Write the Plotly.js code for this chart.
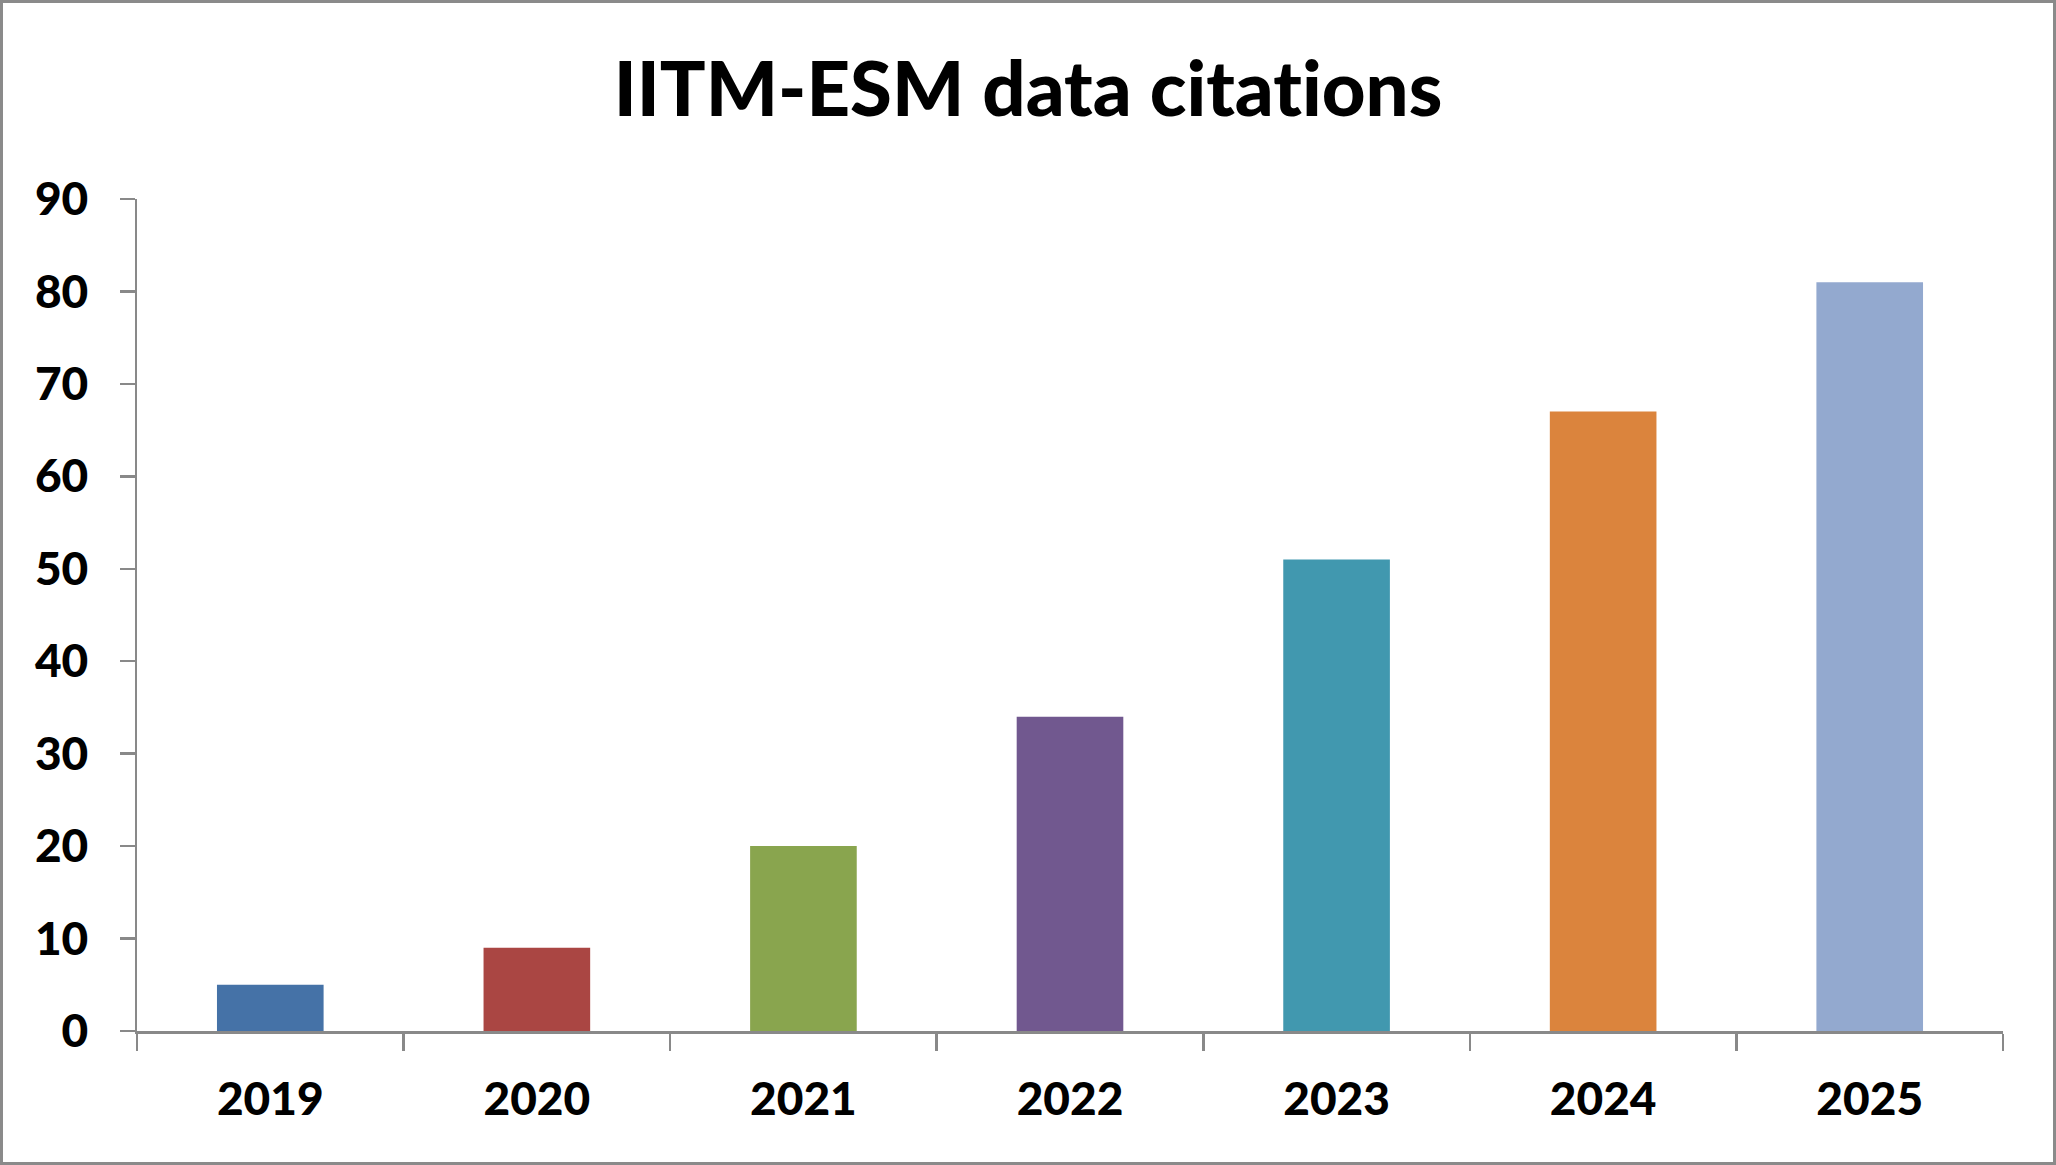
<!DOCTYPE html>
<html>
<head>
<meta charset="utf-8">
<script src="https://cdn.plot.ly/plotly-3.0.1.min.js"></script>
<style>
  html, body { margin: 0; padding: 0; background: #fff; }
  #chart { width: 2056px; height: 1165px; box-sizing: border-box; border: 3px solid #8a8a8a; }
  #chart text { font-variant-ligatures: none; font-feature-settings: "liga" 0; }
</style>
</head>
<body>
<div id="chart"></div>
<script>
const years = ["2019", "2020", "2021", "2022", "2023", "2024", "2025"];
const citations = [5, 9, 20, 34, 51, 67, 81];
const barColors = ["#4572A7", "#AA4643", "#89A54E", "#71588F", "#4198AF", "#DB843D", "#93A9CF"];
const yTicks = [0, 10, 20, 30, 40, 50, 60, 70, 80, 90];

const axisColor = "#898989";
const fontFam = "Lato, 'Open Sans', sans-serif";

Plotly.newPlot("chart", [{
  type: "bar",
  x: years,
  y: citations,
  marker: { color: barColors, line: { width: 0 } },
  hoverinfo: "x+y"
}], {
  width: 2050,
  height: 1159,
  margin: { l: 134, r: 50, t: 196, b: 131 },
  paper_bgcolor: "#ffffff",
  plot_bgcolor: "#ffffff",
  bargap: 0.6,
  showlegend: false,
  title: {
    text: "IITM-ESM data citations",
    font: { family: fontFam, size: 76, weight: 900, color: "#000" },
    xref: "container", x: 0.5, xanchor: "center",
    yref: "container", y: 1 - 86 / 1159, yanchor: "middle"
  },
  xaxis: {
    type: "category",
    showline: true, linecolor: axisColor, linewidth: 2.5,
    ticks: "outside", tickson: "boundaries", ticklen: 17, tickwidth: 2.5, tickcolor: axisColor,
    showgrid: false, zeroline: false,
    tickfont: { family: fontFam, size: 46, weight: 900, color: "#000" },
    ticklabelstandoff: 26
  },
  yaxis: {
    range: [0, 90],
    tickvals: yTicks,
    ticktext: yTicks.map(String),
    showline: true, linecolor: axisColor, linewidth: 2.5,
    ticks: "outside", ticklen: 15, tickwidth: 2.5, tickcolor: axisColor,
    showgrid: false, zeroline: false,
    tickfont: { family: fontFam, size: 46, weight: 900, color: "#000" },
    ticklabelstandoff: 22
  }
}, { displayModeBar: false, staticPlot: true });
</script>
</body>
</html>
